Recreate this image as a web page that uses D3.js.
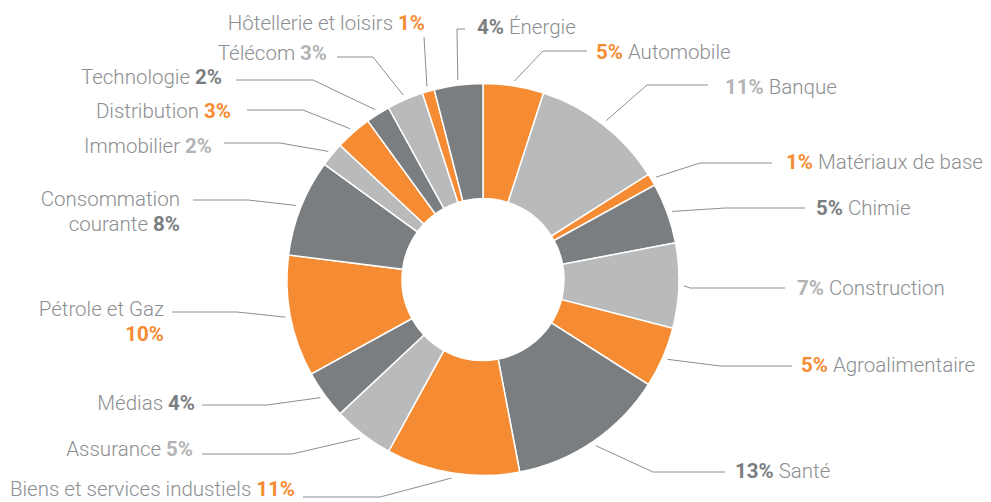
<!DOCTYPE html>
<html>
<head>
<meta charset="utf-8">
<script src="https://cdn.jsdelivr.net/npm/d3@7"></script>
<style>
  body { margin: 0; background: #fff; }
  svg { display: block; }
  text { font-family: "Roboto", "Liberation Sans", sans-serif; }
</style>
</head>
<body>
<div id="chart"></div>
<script>
const canvWidth = 991, canvHeight = 502;

// data
const sectors = ["Automobile", "Banque", "Matériaux de base", "Chimie", "Construction",
  "Agroalimentaire", "Santé", "Biens et services industiels", "Assurance", "Médias",
  "Pétrole et Gaz", "Consommation courante", "Immobilier", "Distribution", "Technologie",
  "Télécom", "Hôtellerie et loisirs", "Énergie"];
const shares = [5, 11, 1, 5, 7, 5, 13, 11, 5, 4, 10, 8, 2, 3, 2, 3, 1, 4];
const tones = ["o", "l", "o", "d", "l", "o", "d", "o", "l", "d", "o", "d", "l", "o", "d", "l", "o", "d"];

const palette = {o: "#f58c33", l: "#b9babc", d: "#7b7e81"};
const pctColor = {o: "#f58c33", l: "#b3b4b6", d: "#7b7e81"};
const nameColor = "#8c8e90";

// label placement (text anchor point + leader elbows), same order as sectors
const labelLayout = [
  {side: "r", x: 596, y: 52, pts: [[543, 51], [587, 51]]},
  {side: "r", x: 725, y: 87, pts: [[647, 85], [708, 85]]},
  {side: "r", x: 786, y: 162, pts: [[700, 163], [772, 163]]},
  {side: "r", x: 816, y: 208, pts: [[725, 208], [805, 208]]},
  {side: "r", x: 797, y: 288, pts: [[690, 288], [785, 288]]},
  {side: "r", x: 801, y: 365, pts: [[720, 366], [792, 366]]},
  {side: "r", x: 735, y: 471, pts: [[653, 472], [725, 472]]},
  {side: "l", x: 295, y: 489, pts: [[380, 497], [303, 497]]},
  {side: "l", x: 193, y: 449, pts: [[292, 454], [202, 454]]},
  {side: "l", x: 195, y: 403, pts: [[267, 405], [202, 405]]},
  {side: "l", x: 164, y: 309, pts: [[237, 312], [172, 312]], lines: ["Pétrole et Gaz", ""]},
  {side: "l", x: 180, y: 199, pts: [[248, 200], [193, 200]], lines: ["Consommation", "courante"]},
  {side: "l", x: 212, y: 146, pts: [[280, 143], [224, 143]]},
  {side: "l", x: 231, y: 111, pts: [[303, 110], [247, 110]]},
  {side: "l", x: 222, y: 77, pts: [[313, 80], [236, 80]]},
  {side: "l", x: 327, y: 53, pts: [[373, 57], [337, 57]]},
  {side: "l", x: 425, y: 23, pts: [[424, 37]]},
  {side: "r", x: 477, y: 27, pts: [[457, 29], [465, 29]]}
];

const cx = 483, cy = 279.5;
const outerR = 196, innerR = 81;

const svg = d3.select("#chart")
  .append("svg")
  .attr("width", canvWidth)
  .attr("height", canvHeight);

const data = sectors.map((s, i) => ({name: s, value: shares[i], tone: tones[i], lay: labelLayout[i]}));

const pie = d3.pie().value(d => d.value).sort(null);
const arcs = pie(data);

const arc = d3.arc().innerRadius(innerR).outerRadius(outerR);
const lineArc = d3.arc().innerRadius(201).outerRadius(201);

const ring = svg.append("g").attr("transform", `translate(${cx},${cy})`);

ring.selectAll("path")
  .data(arcs)
  .enter()
  .append("path")
  .attr("d", arc)
  .attr("fill", d => palette[d.data.tone])
  .attr("stroke", "#fff")
  .attr("stroke-width", 1.5);

// leader lines
const line = d3.line();
svg.append("g")
  .selectAll("path")
  .data(arcs)
  .enter()
  .append("path")
  .attr("d", d => {
    const c = lineArc.centroid(d);
    return line([[cx + c[0], cy + c[1]]].concat(d.data.lay.pts));
  })
  .attr("fill", "none")
  .attr("stroke", "#8c8e90")
  .attr("stroke-width", 1);

// labels
const fs = 20.5;
const labels = svg.append("g");

arcs.forEach(d => {
  const lay = d.data.lay;
  const pct = d.data.value + "%";
  const anchor = lay.side === "r" ? "start" : "end";
  const t = labels.append("text")
    .attr("x", lay.x)
    .attr("y", lay.y)
    .attr("dy", "0.35em")
    .attr("text-anchor", anchor)
    .style("font-size", fs + "px");

  if (lay.lines) {
    t.append("tspan").attr("font-weight", 300).attr("fill", nameColor).text(lay.lines[0]);
    const t2 = labels.append("text")
      .attr("x", lay.x)
      .attr("y", lay.y + 25)
      .attr("dy", "0.35em")
      .attr("text-anchor", anchor)
      .style("font-size", fs + "px");
    if (lay.lines[1]) {
      t2.append("tspan").attr("font-weight", 300).attr("fill", nameColor).text(lay.lines[1] + " ");
    }
    t2.append("tspan").attr("font-weight", 700).attr("fill", pctColor[d.data.tone]).text(pct);
  } else if (lay.side === "r") {
    t.append("tspan").attr("font-weight", 700).attr("fill", pctColor[d.data.tone]).text(pct);
    t.append("tspan").attr("font-weight", 300).attr("fill", nameColor).text(" " + d.data.name);
  } else {
    t.append("tspan").attr("font-weight", 300).attr("fill", nameColor).text(d.data.name + " ");
    t.append("tspan").attr("font-weight", 700).attr("fill", pctColor[d.data.tone]).text(pct);
  }
});
</script>
</body>
</html>
